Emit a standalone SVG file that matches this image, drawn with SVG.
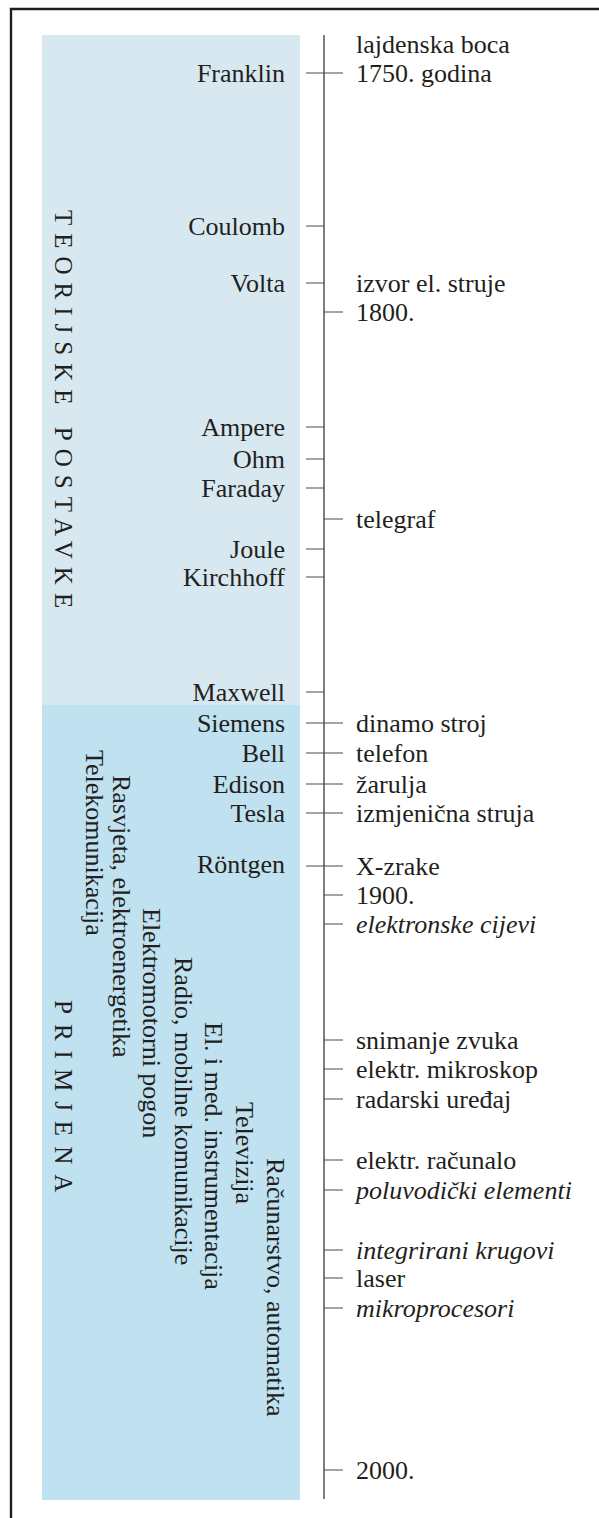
<svg xmlns="http://www.w3.org/2000/svg" width="599" height="1518" viewBox="0 0 599 1518">
<style>
.t{font-family:"Liberation Serif","Times New Roman",serif;font-size:26px;fill:#231f20}
.n{text-anchor:end}
.i{font-style:italic}
.cap{font-family:"Liberation Serif","Times New Roman",serif;font-size:25px;fill:#231f20;letter-spacing:8px}
.tk{stroke:#4a4a4a;stroke-width:1.2;fill:none}
.ax{stroke:#707070;stroke-width:1.8;fill:none}
</style>
<rect x="0" y="0" width="599" height="1518" fill="#ffffff"/>
<path d="M11,1518 V9 H599" fill="none" stroke="#1e1e1e" stroke-width="2.4"/>
<g id="panels">
<rect x="42" y="35" width="258" height="670" fill="#d8e8f1"/>
<rect x="42" y="705" width="258" height="795" fill="#c0e1f0"/>
</g>
<g id="connectors">
<line class="ax" x1="324" y1="35" x2="324" y2="1499"/>
<path class="tk" d="M306,73H343 M306,226H324 M306,283H324 M324,312H343 M306,427H324 M306,459H324 M306,488H324 M324,519H343 M306,549H324 M306,577H324 M306,692H324 M306,723H343 M306,753H343 M306,784H343 M306,813H343 M306,866H343 M324,895H343 M324,924H343 M324,1040H343 M324,1069H343 M324,1099H343 M324,1160H343 M324,1190H343 M324,1250H343 M324,1278H343 M324,1308H343 M324,1470H343"/>
</g>
<g id="sections">
<text class="cap" transform="translate(55,210) rotate(90)">TEORIJSKE POSTAVKE</text>
<text class="cap" transform="translate(55,1000) rotate(90)" style="letter-spacing:10px">PRIMJENA</text>
</g>
<g id="fields">
<text class="t" transform="translate(86,750) rotate(90)">Telekomunikacija</text>
<text class="t" transform="translate(113,775) rotate(90)">Rasvjeta, elektroenergetika</text>
<text class="t" transform="translate(143,908) rotate(90)">Elektromotorni pogon</text>
<text class="t" transform="translate(175,957) rotate(90)">Radio, mobilne komunikacije</text>
<text class="t" transform="translate(205,1022) rotate(90)">El. i med. instrumentacija</text>
<text class="t" transform="translate(236,1102) rotate(90)">Televizija</text>
<text class="t" transform="translate(267,1158) rotate(90)">Računarstvo, automatika</text>
</g>
<g id="names">
<text class="t n" x="285" y="82">Franklin</text>
<text class="t n" x="285" y="235">Coulomb</text>
<text class="t n" x="285" y="292">Volta</text>
<text class="t n" x="285" y="436">Ampere</text>
<text class="t n" x="285" y="468">Ohm</text>
<text class="t n" x="285" y="497">Faraday</text>
<text class="t n" x="285" y="558">Joule</text>
<text class="t n" x="285" y="586">Kirchhoff</text>
<text class="t n" x="285" y="701">Maxwell</text>
<text class="t n" x="285" y="732">Siemens</text>
<text class="t n" x="285" y="762">Bell</text>
<text class="t n" x="285" y="793">Edison</text>
<text class="t n" x="285" y="822">Tesla</text>
<text class="t n" x="285" y="873">Röntgen</text>
</g>
<g id="events">
<text class="t" x="356" y="53">lajdenska boca</text>
<text class="t" x="356" y="82">1750. godina</text>
<text class="t" x="356" y="292">izvor el. struje</text>
<text class="t" x="356" y="321">1800.</text>
<text class="t" x="356" y="528">telegraf</text>
<text class="t" x="356" y="732">dinamo stroj</text>
<text class="t" x="356" y="762">telefon</text>
<text class="t" x="356" y="793">žarulja</text>
<text class="t" x="356" y="822">izmjenična struja</text>
<text class="t" x="356" y="875">X-zrake</text>
<text class="t" x="356" y="904">1900.</text>
<text class="t i" x="356" y="933">elektronske cijevi</text>
<text class="t" x="356" y="1049">snimanje zvuka</text>
<text class="t" x="356" y="1078">elektr. mikroskop</text>
<text class="t" x="356" y="1108">radarski uređaj</text>
<text class="t" x="356" y="1169">elektr. računalo</text>
<text class="t i" x="356" y="1199">poluvodički elementi</text>
<text class="t i" x="356" y="1259">integrirani krugovi</text>
<text class="t" x="356" y="1287">laser</text>
<text class="t i" x="356" y="1317">mikroprocesori</text>
<text class="t" x="356" y="1479">2000.</text>
</g>
</svg>
